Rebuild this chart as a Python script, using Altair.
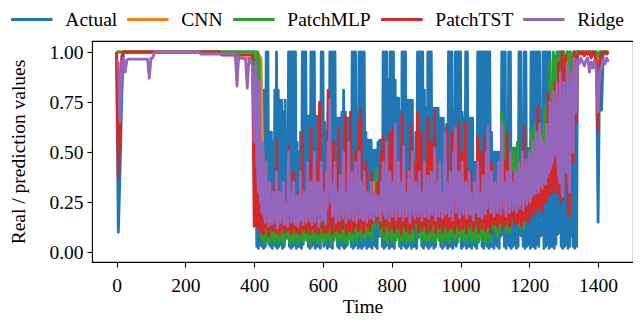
import altair as alt
import pandas as pd

SERIES = ["Actual", "CNN", "PatchMLP", "PatchTST", "Ridge"]
COLORS = ["#1f77b4", "#ff7f0e", "#2ca02c", "#d62728", "#9467bd"]
X_TICKS = [0, 200, 400, 600, 800, 1000, 1200, 1400]
Y_TICKS = [0.0, 0.25, 0.5, 0.75, 1.0]

# Time grid: t = 0..400 and 1345..1430 every 5 steps; 405..1340 every 5 steps
# with an extra reading half-way between (the dense middle part).
START_T = list(range(0, 401, 5))
MAIN_T = list(range(405, 1341, 5))
END_T = list(range(1345, 1431, 5))

# ---------------- Actual ----------------
actual_start = [1.0, 0.1, 0.4, 0.78] + [1.0] * 77
actual_main = [
    1.0, 0.5, 0.8, 0.8, 0.81, 0.81, 1.0, 1.0, 0.6, 0.6, 0.55, 0.81, 1.0, 0.81, 0.76, 0.76, 0.7, 0.76, 0.6, 1.0,
    1.0, 1.0, 1.0, 1.0, 0.55, 0.5, 0.6, 1.0, 1.0, 1.0, 0.68, 0.68, 1.0, 1.0, 1.0, 0.68, 0.68, 0.6, 1.0, 1.0,
    0.65, 0.6, 0.7, 1.0, 1.0, 1.0, 1.0, 0.67, 0.67, 0.67, 0.7, 0.81, 0.7, 0.67, 0.67, 0.67, 1.0, 1.0, 1.0, 0.7,
    1.0, 1.0, 1.0, 1.0, 0.6, 0.56, 0.56, 0.56, 0.51, 0.51, 0.51, 0.55, 0.56, 0.56, 1.0, 1.0, 1.0, 0.86, 1.0, 1.0,
    1.0, 0.86, 0.77, 0.77, 0.7, 1.0, 1.0, 1.0, 0.76, 0.76, 0.76, 0.76, 0.43, 0.6, 1.0, 1.0, 1.0, 1.0, 0.81, 0.72,
    1.0, 1.0, 1.0, 0.72, 0.72, 0.72, 0.72, 0.67, 0.67, 0.67, 0.61, 0.64, 1.0, 1.0, 1.0, 0.7, 1.0, 1.0, 1.0, 1.0,
    0.7, 0.67, 1.0, 1.0, 0.67, 0.67, 0.67, 0.45, 0.45, 1.0, 1.0, 1.0, 1.0, 1.0, 1.0, 1.0, 1.0, 0.6, 0.5, 0.5,
    0.5, 0.5, 0.5, 1.0, 1.0, 1.0, 0.55, 1.0, 1.0, 0.52, 0.52, 0.52, 0.5, 1.0, 1.0, 0.5, 1.0, 1.0, 0.52, 0.52,
    1.0, 1.0, 1.0, 1.0, 1.0, 1.0, 0.7, 1.0, 1.0, 1.0, 1.0, 1.0, 0.81, 0.81, 0.81, 0.81, 1.0, 1.0, 1.0, 1.0,
    0.8, 1.0, 1.0, 0.6, 0.6, 1.0, 1.0, 1.0,
]
actual_low = [
    0.03, 0.02, 0.04, 0.03, 0.02, 0.03, 0.08, 0.09, 0.03, 0.02, 0.04, 0.03, 0.02, 0.03, 0.04, 0.02, 0.03, 0.07, 0.08, 0.03,
    0.02, 0.03, 0.04, 0.02, 0.03, 0.03, 0.02, 0.04, 0.09, 0.08, 0.03, 0.02, 0.03, 0.04, 0.02, 0.03, 0.03, 0.02, 0.08, 0.03,
    0.04, 0.02, 0.03, 0.03, 0.02, 0.09, 0.1, 0.03, 0.02, 0.04, 0.03, 0.02, 0.03, 0.08, 0.07, 0.03, 0.02, 0.03, 0.04, 0.02,
    0.03, 0.02, 0.03, 0.04, 0.02, 0.03, 0.03, 0.02, 0.04, 0.03, 0.02, 0.08, 0.09, 0.03, 0.02, 0.03, 0.04, 0.02, 0.03, 0.03,
    0.02, 0.09, 0.08, 0.03, 0.02, 0.04, 0.03, 0.02, 0.03, 0.04, 0.02, 0.03, 0.03, 0.02, 0.08, 0.1, 0.03, 0.02, 0.04, 0.03,
    0.02, 0.03, 0.04, 0.02, 0.03, 0.08, 0.09, 0.03, 0.02, 0.03, 0.04, 0.02, 0.03, 0.03, 0.02, 0.04, 0.03, 0.09, 0.08, 0.02,
    0.03, 0.04, 0.02, 0.03, 0.03, 0.02, 0.04, 0.03, 0.02, 0.1, 0.09, 0.03, 0.02, 0.04, 0.03, 0.02, 0.03, 0.03, 0.02, 0.04,
    0.03, 0.02, 0.08, 0.09, 0.03, 0.02, 0.04, 0.03, 0.02, 0.03, 0.04, 0.02, 0.03, 0.09, 0.08, 0.03, 0.02, 0.03, 0.04, 0.02,
    0.03, 0.03, 0.02, 0.04, 0.03, 0.08, 0.09, 0.02, 0.03, 0.04, 0.02, 0.03, 0.03, 0.02, 0.04, 0.09, 0.1, 0.03, 0.02, 0.03,
    0.04, 0.02, 0.03, 0.08, 0.03, 0.02, 0.03,
]
actual_end = [1.0] * 11 + [0.15, 1.0, 0.71, 1.0, 1.0, 1.0, 1.0]

# ---------------- CNN (mostly hidden under the other models) ----------------
cnn_start = [1.0] * 69 + [0.97] * 12
cnn_main = [
    1.0, 1.0, 0.98, 0.97, 0.5, 0.3, 0.2, 0.15, 0.22, 0.18, 0.25, 0.15, 0.3, 0.18, 0.2, 0.15, 0.25, 0.2, 0.15, 0.3,
    0.2, 0.15, 0.28, 0.18, 0.22, 0.15, 0.3, 0.2, 0.25, 0.15, 0.22, 0.18, 0.3, 0.2, 0.15, 0.25, 0.18, 0.32, 0.2, 0.15,
    0.25, 0.18, 0.35, 0.2, 0.15, 0.28, 0.2, 0.25, 0.3, 0.18, 0.22, 0.28, 0.2, 0.15, 0.3, 0.22, 0.18, 0.25, 0.2, 0.15,
    0.3, 0.25, 0.18, 0.22, 0.28, 0.15, 0.2, 0.25, 0.3, 0.35, 0.28, 0.2, 0.15, 0.25, 0.3, 0.18, 0.22, 0.28, 0.2, 0.15,
    0.25, 0.3, 0.18, 0.22, 0.15, 0.3, 0.2, 0.25, 0.18, 0.22, 0.28, 0.15, 0.3, 0.25, 0.2, 0.15, 0.28, 0.2, 0.22, 0.18,
    0.25, 0.2, 0.3, 0.15, 0.28, 0.2, 0.22, 0.18, 0.25, 0.15, 0.3, 0.2, 0.22, 0.28, 0.18, 0.25, 0.2, 0.15, 0.3, 0.22,
    0.2, 0.25, 0.18, 0.3, 0.22, 0.15, 0.25, 0.2, 0.28, 0.18, 0.22, 0.15, 0.25, 0.3, 0.2, 0.22, 0.18, 0.35, 0.28, 0.3,
    0.25, 0.3, 0.35, 0.5, 0.45, 0.3, 0.35, 0.28, 0.4, 0.45, 0.38, 0.42, 0.35, 0.3, 0.4, 0.35, 0.45, 0.4, 0.38, 0.45,
    0.5, 0.48, 0.55, 0.45, 0.5, 0.6, 0.5, 0.55, 0.65, 0.6, 0.7, 0.8, 0.75, 0.9, 0.85, 0.95, 0.85, 0.97, 0.9, 1.0,
    0.92, 1.0, 0.88, 0.98, 0.9, 1.0, 0.97, 1.0,
]
cnn_end = [1.0, 1.0, 0.99, 1.0, 1.0, 0.99, 1.0, 1.0, 0.99, 1.0, 0.98, 0.95, 0.99, 1.0, 1.0, 0.99, 1.0, 1.0]

# ---------------- PatchMLP ----------------
mlp_start = [1.0] * 81
mlp_main = [
    0.2, 1.0, 0.95, 0.18, 0.12, 0.1, 0.15, 0.08, 0.12, 0.2, 0.1, 0.07, 0.14, 0.09, 0.16, 0.11, 0.08, 0.13, 0.18, 0.1,
    0.14, 0.08, 0.12, 0.17, 0.09, 0.13, 0.07, 0.15, 0.1, 0.2, 0.12, 0.09, 0.16, 0.11, 0.14, 0.08, 0.12, 0.18, 0.1, 0.22,
    0.13, 0.1, 0.17, 0.12, 0.25, 0.15, 0.1, 0.2, 0.13, 0.17, 0.11, 0.22, 0.14, 0.1, 0.18, 0.12, 0.16, 0.22, 0.13, 0.1,
    0.18, 0.25, 0.12, 0.2, 0.15, 0.22, 0.1, 0.18, 0.28, 0.13, 0.42, 0.35, 0.3, 0.12, 0.18, 0.1, 0.15, 0.22, 0.12, 0.14,
    0.09, 0.17, 0.12, 0.2, 0.1, 0.15, 0.08, 0.14, 0.19, 0.11, 0.16, 0.1, 0.35, 0.3, 0.14, 0.1, 0.17, 0.12, 0.2, 0.1,
    0.15, 0.09, 0.18, 0.12, 0.16, 0.1, 0.22, 0.13, 0.09, 0.17, 0.12, 0.19, 0.1, 0.15, 0.25, 0.12, 0.18, 0.1, 0.14, 0.2,
    0.12, 0.16, 0.1, 0.3, 0.15, 0.1, 0.18, 0.12, 0.2, 0.1, 0.15, 0.09, 0.14, 0.2, 0.12, 0.17, 0.1, 0.22, 0.35, 0.35,
    0.3, 0.18, 0.25, 0.7, 0.65, 0.3, 0.22, 0.35, 0.28, 0.52, 0.5, 0.4, 0.55, 0.45, 0.3, 0.38, 0.25, 0.42, 0.35, 0.48,
    0.6, 0.55, 0.64, 0.5, 0.62, 0.58, 0.45, 0.6, 0.73, 0.7, 0.8, 0.95, 0.85, 1.0, 0.98, 1.0, 0.9, 1.0, 0.97, 1.0,
    0.95, 1.0, 0.9, 1.0, 0.93, 1.0, 1.0, 1.0,
]
mlp_low = [
    0.6, 0.98, 0.3, 0.07, 0.05, 0.1, 0.06, 0.04, 0.09, 0.06, 0.12, 0.05, 0.08, 0.05, 0.1, 0.06, 0.04, 0.11, 0.07, 0.05,
    0.09, 0.05, 0.12, 0.06, 0.04, 0.1, 0.07, 0.05, 0.11, 0.06, 0.08, 0.04, 0.1, 0.06, 0.12, 0.05, 0.07, 0.04, 0.09, 0.06,
    0.05, 0.11, 0.07, 0.04, 0.1, 0.06, 0.13, 0.05, 0.08, 0.06, 0.11, 0.05, 0.09, 0.04, 0.12, 0.07, 0.05, 0.1, 0.06, 0.08,
    0.12, 0.06, 0.1, 0.07, 0.14, 0.08, 0.11, 0.06, 0.15, 0.2, 0.18, 0.12, 0.08, 0.11, 0.06, 0.09, 0.05, 0.12, 0.07, 0.05,
    0.1, 0.06, 0.08, 0.04, 0.11, 0.06, 0.09, 0.05, 0.12, 0.06, 0.08, 0.05, 0.16, 0.12, 0.07, 0.1, 0.05, 0.09, 0.06, 0.11,
    0.05, 0.09, 0.06, 0.12, 0.05, 0.08, 0.06, 0.11, 0.04, 0.09, 0.06, 0.12, 0.05, 0.08, 0.1, 0.06, 0.09, 0.05, 0.11, 0.07,
    0.06, 0.1, 0.05, 0.13, 0.07, 0.05, 0.09, 0.06, 0.11, 0.05, 0.08, 0.06, 0.1, 0.05, 0.12, 0.07, 0.05, 0.14, 0.12, 0.1,
    0.08, 0.1, 0.12, 0.2, 0.15, 0.1, 0.12, 0.1, 0.15, 0.18, 0.2, 0.15, 0.18, 0.12, 0.15, 0.12, 0.15, 0.18, 0.2, 0.22,
    0.25, 0.2, 0.3, 0.25, 0.28, 0.22, 0.3, 0.35, 0.3, 0.4, 0.5, 0.45, 0.6, 0.7, 0.8, 0.75, 0.85, 0.8, 0.9, 0.88,
    0.85, 0.92, 0.86, 0.95, 0.9, 0.97, 1.0,
]
mlp_end = [1.0] * 11 + [0.98] + [1.0] * 6

# ---------------- PatchTST ----------------
tst_start = [1.0, 0.37, 0.64, 0.98] + [1.0] * 57 + [0.985] * 19 + [0.13]
tst_main = [
    0.9, 0.15, 0.35, 0.12, 0.25, 0.18, 0.45, 0.15, 0.3, 0.12, 0.22, 0.35, 0.56, 0.2, 0.14, 0.3, 0.18, 0.25, 0.12, 0.53,
    0.2, 0.15, 0.4, 0.22, 0.13, 0.3, 0.18, 0.6, 0.25, 0.15, 0.35, 0.2, 0.62, 0.18, 0.3, 0.14, 0.45, 0.75, 0.25, 0.18,
    0.4, 0.22, 0.81, 0.3, 0.2, 0.55, 0.25, 0.15, 0.62, 0.3, 0.2, 0.45, 0.68, 0.25, 0.18, 0.7, 0.35, 0.2, 0.5, 0.22,
    0.66, 0.71, 0.3, 0.2, 0.45, 0.25, 0.15, 0.4, 0.2, 0.3, 0.15, 0.35, 0.2, 0.5, 0.58, 0.25, 0.4, 0.18, 0.6, 0.3,
    0.62, 0.2, 0.35, 0.15, 0.45, 0.69, 0.25, 0.18, 0.4, 0.22, 0.64, 0.3, 0.2, 0.45, 0.7, 0.25, 0.6, 0.2, 0.35, 0.18,
    0.67, 0.3, 0.55, 0.2, 0.71, 0.3, 0.18, 0.45, 0.25, 0.15, 0.4, 0.63, 0.2, 0.35, 0.6, 0.22, 0.3, 0.15, 0.65, 0.25,
    0.5, 0.2, 0.65, 0.3, 0.18, 0.4, 0.22, 0.15, 0.35, 0.58, 0.2, 0.5, 0.25, 0.58, 0.15, 0.3, 0.2, 0.45, 0.18, 0.3,
    0.15, 0.4, 0.22, 0.35, 0.18, 0.45, 0.6, 0.25, 0.15, 0.4, 0.2, 0.3, 0.15, 0.45, 0.25, 0.35, 0.63, 0.3, 0.2, 0.45,
    0.25, 0.55, 0.3, 0.4, 0.73, 0.35, 0.25, 0.5, 0.3, 0.65, 0.8, 0.4, 0.7, 0.3, 0.85, 0.45, 0.95, 0.26, 1.0, 0.6,
    0.98, 0.35, 0.18, 0.9, 0.5, 1.0, 0.7, 0.98,
]
tst_low = [
    0.13, 0.12, 0.1, 0.16, 0.09, 0.2, 0.12, 0.08, 0.18, 0.11, 0.22, 0.1, 0.14, 0.09, 0.19, 0.12, 0.1, 0.24, 0.11, 0.15,
    0.09, 0.18, 0.12, 0.1, 0.21, 0.09, 0.14, 0.11, 0.25, 0.1, 0.13, 0.09, 0.2, 0.12, 0.1, 0.17, 0.09, 0.22, 0.12, 0.1,
    0.15, 0.1, 0.2, 0.12, 0.09, 0.18, 0.11, 0.23, 0.1, 0.14, 0.12, 0.19, 0.09, 0.16, 0.11, 0.21, 0.1, 0.13, 0.24, 0.11,
    0.12, 0.2, 0.1, 0.17, 0.13, 0.22, 0.11, 0.15, 0.19, 0.25, 0.21, 0.16, 0.12, 0.2, 0.1, 0.14, 0.23, 0.11, 0.17, 0.12,
    0.1, 0.19, 0.12, 0.15, 0.09, 0.22, 0.13, 0.11, 0.18, 0.1, 0.24, 0.12, 0.2, 0.15, 0.1, 0.17, 0.11, 0.21, 0.13, 0.1,
    0.18, 0.11, 0.14, 0.23, 0.1, 0.16, 0.12, 0.2, 0.1, 0.13, 0.19, 0.11, 0.22, 0.12, 0.15, 0.1, 0.25, 0.13, 0.11, 0.18,
    0.12, 0.2, 0.1, 0.16, 0.13, 0.22, 0.11, 0.14, 0.19, 0.1, 0.24, 0.12, 0.15, 0.11, 0.21, 0.13, 0.1, 0.18, 0.14, 0.2,
    0.13, 0.22, 0.15, 0.12, 0.2, 0.14, 0.25, 0.13, 0.17, 0.21, 0.14, 0.24, 0.15, 0.19, 0.13, 0.23, 0.16, 0.2, 0.15, 0.26,
    0.18, 0.25, 0.2, 0.3, 0.22, 0.28, 0.2, 0.35, 0.25, 0.3, 0.28, 0.4, 0.3, 0.35, 0.45, 0.3, 0.5, 0.25, 0.55, 0.45,
    0.55, 0.3, 0.2, 0.6, 0.45, 0.8, 0.65,
]
tst_end = [1.0, 0.99, 1.0, 0.98, 1.0, 0.99, 1.0, 0.97, 1.0, 0.99, 0.95, 0.61, 0.95, 1.0, 0.99, 1.0, 0.99, 1.0]

# ---------------- Ridge ----------------
ridge_start = ([0.96, 0.95, 0.65, 0.92, 0.97, 0.9, 0.96] + [0.965] * 12 + [0.87, 0.97, 0.97]
               + [1.0] * 27 + [0.99] * 21
               + [0.83, 0.98, 0.97, 0.97, 0.97, 0.96, 0.82, 0.97, 0.96, 0.93, 0.55])
ridge_main = [
    0.95, 0.4, 0.86, 0.3, 0.55, 0.2, 0.45, 0.25, 0.35, 0.18, 0.3, 0.22, 0.4, 0.15, 0.3, 0.2, 0.35, 0.25, 0.18, 0.5,
    0.3, 0.2, 0.35, 0.15, 0.28, 0.2, 0.4, 0.22, 0.3, 0.18, 0.45, 0.25, 0.35, 0.2, 0.5, 0.28, 0.35, 0.22, 0.45, 0.3,
    0.2, 0.4, 0.55, 0.76, 0.35, 0.25, 0.45, 0.3, 0.2, 0.38, 0.25, 0.5, 0.3, 0.22, 0.55, 0.3, 0.4, 0.25, 0.45, 0.3,
    0.5, 0.35, 0.25, 0.4, 0.2, 0.3, 0.22, 0.35, 0.25, 0.3, 0.2, 0.28, 0.22, 0.35, 0.45, 0.25, 0.55, 0.3, 0.4, 0.25,
    0.35, 0.64, 0.3, 0.45, 0.25, 0.35, 0.53, 0.3, 0.22, 0.4, 0.3, 0.5, 0.25, 0.35, 0.2, 0.4, 0.3, 0.22, 0.45, 0.3,
    0.38, 0.22, 0.4, 0.3, 0.52, 0.25, 0.35, 0.45, 0.3, 0.22, 0.6, 0.35, 0.25, 0.4, 0.3, 0.5, 0.62, 0.28, 0.4, 0.3,
    0.45, 0.25, 0.35, 0.22, 0.4, 0.3, 0.2, 0.35, 0.25, 0.45, 0.3, 0.22, 0.38, 0.28, 0.5, 0.63, 0.3, 0.4, 0.25, 0.35,
    0.28, 0.45, 0.3, 0.65, 0.35, 0.25, 0.4, 0.3, 0.5, 0.35, 0.28, 0.4, 0.3, 0.45, 0.35, 0.5, 0.38, 0.46, 0.35, 0.5,
    0.4, 0.55, 0.45, 0.6, 0.5, 0.64, 0.45, 0.55, 0.5, 0.64, 0.6, 0.75, 0.62, 0.8, 0.7, 0.85, 0.4, 0.9, 0.3, 0.85,
    0.5, 0.95, 0.35, 0.9, 0.6, 0.97, 0.7, 0.96,
]
ridge_low = [
    0.45, 0.3, 0.25, 0.2, 0.18, 0.15, 0.22, 0.13, 0.2, 0.14, 0.25, 0.15, 0.12, 0.19, 0.15, 0.23, 0.14, 0.18, 0.13, 0.21,
    0.15, 0.26, 0.14, 0.18, 0.13, 0.22, 0.16, 0.14, 0.2, 0.15, 0.27, 0.16, 0.14, 0.21, 0.15, 0.19, 0.13, 0.24, 0.16, 0.2,
    0.14, 0.22, 0.3, 0.25, 0.18, 0.24, 0.15, 0.21, 0.16, 0.27, 0.17, 0.2, 0.15, 0.23, 0.17, 0.28, 0.16, 0.2, 0.15, 0.24,
    0.17, 0.25, 0.16, 0.21, 0.15, 0.24, 0.17, 0.2, 0.16, 0.28, 0.18, 0.22, 0.16, 0.26, 0.19, 0.17, 0.23, 0.16, 0.29, 0.18,
    0.21, 0.16, 0.25, 0.18, 0.22, 0.16, 0.27, 0.18, 0.2, 0.15, 0.24, 0.19, 0.17, 0.28, 0.18, 0.21, 0.16, 0.25, 0.18, 0.22,
    0.17, 0.26, 0.19, 0.22, 0.16, 0.28, 0.18, 0.21, 0.17, 0.25, 0.19, 0.3, 0.18, 0.22, 0.16, 0.27, 0.2, 0.23, 0.17, 0.25,
    0.19, 0.23, 0.17, 0.28, 0.19, 0.22, 0.16, 0.26, 0.2, 0.18, 0.24, 0.17, 0.29, 0.19, 0.22, 0.3, 0.2, 0.25, 0.18, 0.23,
    0.2, 0.27, 0.19, 0.3, 0.22, 0.18, 0.26, 0.2, 0.29, 0.21, 0.25, 0.2, 0.28, 0.22, 0.26, 0.21, 0.3, 0.24, 0.28, 0.25,
    0.28, 0.3, 0.29, 0.32, 0.3, 0.34, 0.32, 0.35, 0.34, 0.38, 0.4, 0.42, 0.45, 0.48, 0.5, 0.45, 0.35, 0.6, 0.28, 0.55,
    0.4, 0.6, 0.3, 0.7, 0.5, 0.85, 0.8,
]
ridge_end = [0.94, 0.97, 0.95, 0.93, 0.96, 0.97, 0.9, 0.95, 0.92, 0.96, 0.9, 0.7, 0.9, 0.93, 0.96, 0.94, 0.97, 0.95]

parts = {
    "Actual": (actual_start, actual_main, actual_low, actual_end),
    "CNN": (cnn_start, cnn_main, None, cnn_end),
    "PatchMLP": (mlp_start, mlp_main, mlp_low, mlp_end),
    "PatchTST": (tst_start, tst_main, tst_low, tst_end),
    "Ridge": (ridge_start, ridge_main, ridge_low, ridge_end),
}

rows = []
for name in SERIES:
    start, main, low, end = parts[name]
    assert len(start) == len(START_T) and len(main) == len(MAIN_T) and len(end) == len(END_T), name
    if low is not None:
        assert len(low) == len(MAIN_T) - 1, name
    for t, v in zip(START_T, start):
        rows.append({"t": t, "v": v, "series": name})
    for k, (t, v) in enumerate(zip(MAIN_T, main)):
        rows.append({"t": t, "v": v, "series": name})
        if low is not None and k < len(low):
            rows.append({"t": t + 2.5, "v": low[k], "series": name})
    for t, v in zip(END_T, end):
        rows.append({"t": t, "v": v, "series": name})
df = pd.DataFrame(rows)

FONT = "Liberation Serif"
FS = 19.5

chart = alt.Chart(df).mark_line(
    strokeWidth=2.8, strokeJoin="round", strokeCap="butt"
).encode(
    x=alt.X("t:Q",
            scale=alt.Scale(domain=[-71.5, 1501.5], nice=False, zero=False),
            axis=alt.Axis(values=X_TICKS, title="Time", format="d", labelPadding=9, titlePadding=3)),
    y=alt.Y("v:Q",
            scale=alt.Scale(domain=[-0.048, 1.055], nice=False, zero=False),
            axis=alt.Axis(values=Y_TICKS, title="Real / prediction values", format=".2f",
                          labelPadding=4, titlePadding=20)),
    color=alt.Color("series:N",
                    scale=alt.Scale(domain=SERIES, range=COLORS),
                    legend=alt.Legend(
                        title=None, orient="none", direction="horizontal",
                        legendX=-82.7, legendY=-44,
                        symbolType="stroke", symbolSize=1722, symbolStrokeWidth=3,
                        labelFont=FONT, labelFontSize=FS, labelColor="black",
                        labelOffset=11, columnPadding=3, padding=0, gridAlign="each",
                        labelBaseline="middle")),
).properties(
    width=541, height=221,
    autosize=alt.AutoSizeParams(type="none"),
    padding={"left": 84, "top": 33, "right": 0, "bottom": 55},
).configure_view(
    stroke="black", strokeWidth=1.1
).configure_axis(
    domain=False, grid=False,
    ticks=True, tickColor="black", tickSize=5, tickWidth=1.1,
    labelFont=FONT, labelFontSize=FS, labelColor="black",
    titleFont=FONT, titleFontSize=FS, titleFontWeight="normal", titleColor="black",
)

chart.save("out.html", embed_options={"renderer": "svg", "actions": False})
